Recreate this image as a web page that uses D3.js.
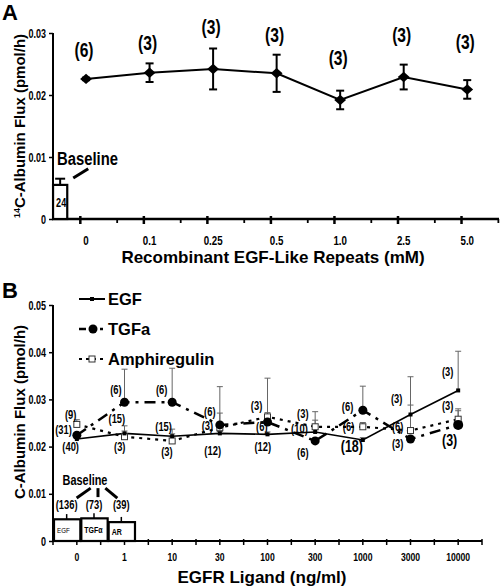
<!DOCTYPE html>
<html><head><meta charset="utf-8">
<script src="https://cdn.jsdelivr.net/npm/d3@7"></script>
<style>body{margin:0;background:#fff}svg{display:block}</style>
</head><body>
<svg id="c" width="502" height="586"></svg>
<script>
// ---------- Panel A data ----------
const catsA = ["0","0.1","0.25","0.5","1.0","2.5","5.0"];
const fluxA = [0.0226,0.0236,0.0242,0.0235,0.0192,0.0229,0.0209];
const errA  = [0.0002,0.0015,0.0033,0.0030,0.0015,0.0020,0.0015];
const nA    = ["(6)","(3)","(3)","(3)","(3)","(3)","(3)"];
const nAatY = [0.0273,0.0284,0.0310,0.0297,0.0260,0.0297,0.0285];
const baseA = 0.0055, baseAErr = 0.0010, baseAN = "24";
const yTicksA = [0,0.01,0.02,0.03];

// ---------- Panel B data ----------
const catsB = ["0","1","10","30","100","300","1000","3000","10000"];
const egf     = [0.0216,0.0228,0.0222,0.0228,0.0226,0.0231,0.0214,0.0268,0.0319];
const egfErr  = [0.0004,0.0005,0.0005,0.0004,0.0005,0.0025,0.0005,0.0080,0.0083];
const tgfa    = [0.0224,0.0294,0.0294,0.0246,0.0252,0.0212,0.0277,0.0216,0.0246];
const tgfaErr = [0.0004,0.0070,0.0072,0.0081,0.0093,0.0006,0.0051,0.0006,0.0030];
const amph    = [0.0247,0.0221,0.0212,0.0240,0.0263,0.0242,0.0242,0.0234,0.0258];
const amphErr = [0.0010,0.0023,0.0025,0.0031,0.0009,0.0032,0.0009,0.0054,0.0022];
const baseNames = ["EGF","TGFα","AR"];
const baseVals  = [0.0046,0.0048,0.0040];
const baseErrs  = [0.0011,0.0011,0.0011];
const baseNs    = ["(136)","(73)","(39)"];
const yTicksB = [0,0.01,0.02,0.03,0.04,0.05];
// count labels: [text, category position, value, big]
const nLabelsB = [
 ["(9)",-0.13,0.0266,0],["(31)",-0.28,0.0236,0],["(40)",-0.13,0.0199,0],
 ["(6)",0.82,0.0320,0],["(15)",0.84,0.0258,0],["(3)",0.90,0.0199,0],
 ["(6)",1.78,0.0320,0],["(15)",1.82,0.0242,0],["(3)",1.89,0.0188,0],
 ["(6)",2.79,0.0273,0],["(3)",2.74,0.0244,0],["(12)",2.85,0.0190,0],
 ["(3)",3.77,0.0286,0],["(6)",3.88,0.0242,0],["(12)",3.90,0.0199,0],
 ["(3)",4.74,0.0269,0],["(10)",4.67,0.0238,0],["(6)",4.74,0.0186,0],
 ["(6)",5.68,0.0284,0],["(6)",5.70,0.0242,0],["(18)",5.77,0.0199,1],
 ["(3)",6.71,0.0301,0],["(6)",6.73,0.0242,0],["(3)",6.73,0.0205,0],
 ["(3)",7.78,0.0358,0],["(3)",7.78,0.0286,0],["(3)",7.82,0.0212,1]
];

const SANS = "'Liberation Sans',Arial,sans-serif";
const svg = d3.select("#c");

// narrow bold text helper (Arial-Narrow look by horizontal compression)
function ntext(g, x, y, str, size, anchor, weight, sx){
  return g.append("text").attr("transform",`translate(${x},${y}) scale(${sx||0.78},1)`)
    .attr("text-anchor",anchor||"start").attr("font-family",SANS)
    .attr("font-weight",weight||"bold").attr("font-size",size).text(str);
}

// ================= PANEL A =================
const yA = d3.scaleLinear().domain([0,0.03]).range([219,33]);
const xA = d3.scaleLinear().domain([-0.52,6.5]).range([53,499]);
const gA = svg.append("g");

svg.append("text").attr("x",2).attr("y",20).attr("font-family",SANS).attr("font-weight","bold")
  .attr("font-size",22).text("A");

// y axis
const axA = d3.axisLeft(yA).tickValues(yTicksA).tickSize(4).tickFormat("");
const gyA = gA.append("g").attr("transform","translate(53,0)").call(axA);
gyA.select(".domain").remove();
gyA.selectAll("line").attr("stroke","#000").attr("stroke-width",1.5);
yTicksA.forEach(t=>ntext(gA,46,yA(t)+4.5,t===0?"0":d3.format(".2f")(t),12.5,"end",null,0.72));
gA.append("line").attr("x1",53).attr("x2",53).attr("y1",yA(0.03)).attr("y2",yA(0)+1)
  .attr("stroke","#000").attr("stroke-width",2);

// x axis
gA.append("line").attr("x1",52).attr("x2",xA(6.5)).attr("y1",yA(0)).attr("y2",yA(0))
  .attr("stroke","#000").attr("stroke-width",2.5);
catsA.forEach((c,i)=>{
  gA.append("line").attr("x1",xA(i-0.09)).attr("x2",xA(i-0.09)).attr("y1",yA(0)-3).attr("y2",yA(0)+5)
    .attr("stroke","#000").attr("stroke-width",2.5);
  gA.append("line").attr("x1",xA(i+0.49)).attr("x2",xA(i+0.49)).attr("y1",yA(0)).attr("y2",yA(0)+4)
    .attr("stroke","#000").attr("stroke-width",1.8);
  ntext(gA,xA(i),yA(0)+26,c,12.5,"middle");
});

// baseline bar
const bx0 = xA(-0.535), bx1 = xA(-0.28), bcA = (bx0+bx1)/2;
gA.append("line").attr("x1",bcA).attr("x2",bcA).attr("y1",yA(baseA)).attr("y2",yA(baseA+baseAErr))
  .attr("stroke","#000").attr("stroke-width",2);
gA.append("line").attr("x1",bcA-5).attr("x2",bcA+5).attr("y1",yA(baseA+baseAErr)).attr("y2",yA(baseA+baseAErr))
  .attr("stroke","#000").attr("stroke-width",2);
gA.append("rect").attr("x",bx0+1).attr("y",yA(baseA)).attr("width",bx1-bx0-2).attr("height",yA(0)-yA(baseA))
  .attr("fill","#fff").attr("stroke","#000").attr("stroke-width",2.2);
ntext(gA,bcA+1,(yA(baseA)+yA(0))/2+5,baseAN,13,"middle",null,0.7);
ntext(gA,bx0+5,yA(0.0087),"Baseline",19);
gA.append("line").attr("x1",bx1+5).attr("y1",yA(0.0066)).attr("x2",bx1+20).attr("y2",yA(0.0081))
  .attr("stroke","#000").attr("stroke-width",3);

// line + markers + errors
const lineA = d3.line().x((d,i)=>xA(i)).y(d=>yA(d));
gA.append("path").datum(fluxA).attr("d",lineA).attr("fill","none").attr("stroke","#000").attr("stroke-width",2);
fluxA.forEach((v,i)=>{
  const x = xA(i);
  gA.append("line").attr("x1",x).attr("x2",x).attr("y1",yA(v-errA[i])).attr("y2",yA(v+errA[i]))
    .attr("stroke","#000").attr("stroke-width",2);
  [v-errA[i],v+errA[i]].forEach(e=>gA.append("line").attr("x1",x-4).attr("x2",x+4).attr("y1",yA(e)).attr("y2",yA(e))
    .attr("stroke","#000").attr("stroke-width",2));
  gA.append("path").attr("d",d3.symbol(d3.symbolSquare,70)())
    .attr("transform",`translate(${x},${yA(v)}) scale(1,0.88) rotate(45)`).attr("fill","#000");
  ntext(gA,x-2,yA(nAatY[i])+7,nA[i],20,"middle");
});

// titles
gA.append("text").attr("transform",`translate(25,${(yA(0)+yA(0.03))/2}) rotate(-90)`).attr("text-anchor","middle")
  .attr("font-family",SANS).attr("font-weight","bold").attr("font-size",15)
  .call(t=>{t.append("tspan").attr("font-size",9).attr("dy",-5).text("14");
            t.append("tspan").attr("dy",5).text("C-Albumin Flux (pmol/h)");});
gA.append("text").attr("x",273).attr("y",263).attr("text-anchor","middle").attr("font-family",SANS)
  .attr("font-weight","bold").attr("font-size",17).text("Recombinant EGF-Like Repeats (mM)");

// ================= PANEL B =================
const yB = d3.scaleLinear().domain([0,0.05]).range([541,305]);
const xB = d3.scaleLinear().domain([-0.5,8.5]).range([53,482]);
const gB = svg.append("g");

svg.append("text").attr("x",2).attr("y",298).attr("font-family",SANS).attr("font-weight","bold")
  .attr("font-size",22).text("B");

const axB = d3.axisLeft(yB).tickValues(yTicksB).tickSize(4).tickFormat("");
const gyB = gB.append("g").attr("transform","translate(53,0)").call(axB);
gyB.select(".domain").remove();
gyB.selectAll("line").attr("stroke","#000").attr("stroke-width",1.5);
yTicksB.forEach(t=>ntext(gB,46,yB(t)+4.5,t===0?"0":d3.format(".2f")(t),12,"end",null,0.75));
gB.append("line").attr("x1",53).attr("x2",53).attr("y1",yB(0.05)).attr("y2",yB(0)+1)
  .attr("stroke","#000").attr("stroke-width",2);

gB.append("line").attr("x1",52).attr("x2",xB(8.5)).attr("y1",yB(0)).attr("y2",yB(0))
  .attr("stroke","#000").attr("stroke-width",2);
d3.range(-0.5,8.51,0.5).forEach(t=>{
  gB.append("line").attr("x1",xB(t)).attr("x2",xB(t)).attr("y1",yB(0)-2).attr("y2",yB(0)+4)
    .attr("stroke","#000").attr("stroke-width",1.5);
});
catsB.forEach((c,i)=>ntext(gB,xB(i),yB(0)+20,c,11.5,"middle",null,0.75));

// baseline boxes
const bandB = d3.scaleBand().domain(baseNames).range([xB(-0.5),xB(1.22)]);
baseNames.forEach((nm,i)=>{
  const cx = bandB(nm)+bandB.bandwidth()/2;
  gB.append("line").attr("x1",cx).attr("x2",cx).attr("y1",yB(baseVals[i])).attr("y2",yB(baseVals[i]+baseErrs[i]))
    .attr("stroke","#000").attr("stroke-width",1.5);
  gB.append("rect").attr("x",bandB(nm)+1).attr("y",yB(baseVals[i])).attr("width",bandB.bandwidth()-1)
    .attr("height",yB(0)-yB(baseVals[i])).attr("fill","#fff").attr("stroke","#000").attr("stroke-width",2.2);
  ntext(gB,bandB(nm)+4,yB(baseVals[i]/2)+3,nm,nm==="EGF"?8:9,"start",nm==="EGF"?"normal":"bold");
  ntext(gB,cx,yB(0.0076)+4,baseNs[i],12,"middle");
});
const bcx = i => bandB(baseNames[i])+bandB.bandwidth()/2;
ntext(gB,bcx(1)-9,yB(0.0119),"Baseline",14,"middle");
[[bcx(0)+10,0.0091,bcx(0)+24,0.0112],[bcx(1)+4,0.0093,bcx(1)+4,0.0112],[bcx(2)-16,0.0112,bcx(2)-4,0.0091]]
  .forEach(s=>gB.append("line").attr("x1",s[0]).attr("y1",yB(s[1])).attr("x2",s[2]).attr("y2",yB(s[3]))
    .attr("stroke","#000").attr("stroke-width",3));

// error bars (gray, upper)
function errs(vals, es){
  vals.forEach((v,i)=>{
    const x = xB(i);
    gB.append("line").attr("x1",x).attr("x2",x).attr("y1",yB(v)).attr("y2",yB(v+es[i])).attr("stroke","#666").attr("stroke-width",1);
    gB.append("line").attr("x1",x-3).attr("x2",x+3).attr("y1",yB(v+es[i])).attr("y2",yB(v+es[i])).attr("stroke","#666").attr("stroke-width",1);
  });
}
errs(egf,egfErr); errs(tgfa,tgfaErr); errs(amph,amphErr);

const lineB = d3.line().x((d,i)=>xB(i)).y(d=>yB(d));
gB.append("path").datum(amph).attr("d",lineB).attr("fill","none").attr("stroke","#000").attr("stroke-width",2.2).attr("stroke-dasharray","3,5");
gB.append("path").datum(tgfa).attr("d",lineB).attr("fill","none").attr("stroke","#000").attr("stroke-width",2.5).attr("stroke-dasharray","11,6,3,6");
gB.append("path").datum(egf).attr("d",lineB).attr("fill","none").attr("stroke","#000").attr("stroke-width",1.6);

function sqOpen(x,y){ gB.append("rect").attr("x",x-3).attr("y",y-3).attr("width",6).attr("height",6).attr("fill","#fff").attr("stroke","#333").attr("stroke-width",1); }
function dot(x,y,r){ gB.append("circle").attr("cx",x).attr("cy",y).attr("r",r).attr("fill","#000"); }
function sqFill(x,y){ gB.append("rect").attr("x",x-2).attr("y",y-2).attr("width",4).attr("height",4).attr("fill","#000"); }
amph.forEach((v,i)=>sqOpen(xB(i),yB(v)));
tgfa.forEach((v,i)=>dot(xB(i),yB(v),i===8?5:4.5));
egf.forEach((v,i)=>sqFill(xB(i),yB(v)));

nLabelsB.forEach(l=>ntext(gB,xB(l[1]),yB(l[2])+(l[3]?5:4),l[0],l[3]?16:12,"middle"));

// legend
const legend = [["EGF","solid"],["TGFa","dashdot"],["Amphiregulin","dot"]];
legend.forEach((l,i)=>{
  const y = yB(0.05) - 6 + i*30;
  const ln = gB.append("line").attr("x1",79).attr("x2",105).attr("y1",y).attr("y2",y).attr("stroke","#000");
  if(l[1]==="solid"){ ln.attr("stroke-width",2); sqFill(92,y); }
  if(l[1]==="dashdot"){ ln.attr("stroke-width",2.5).attr("stroke-dasharray","7,4,2,20"); dot(93,y,4.5);
     gB.append("line").attr("x1",100).attr("x2",103).attr("y1",y).attr("y2",y).attr("stroke","#000").attr("stroke-width",2.5);}
  if(l[1]==="dot"){ ln.attr("stroke-width",2).attr("stroke-dasharray","3,4"); sqOpen(92,y); }
  gB.append("text").attr("x",108).attr("y",y+6).attr("font-family",SANS).attr("font-weight","bold").attr("font-size",16.5).text(l[0]);
});

gB.append("text").attr("transform",`translate(25,412) rotate(-90)`).attr("text-anchor","middle")
  .attr("font-family",SANS).attr("font-weight","bold").attr("font-size",15).text("C-Albumin Flux (pmol/h)");
gB.append("text").attr("x",262).attr("y",583).attr("text-anchor","middle").attr("font-family",SANS)
  .attr("font-weight","bold").attr("font-size",17).text("EGFR Ligand (ng/ml)");
</script>
</body></html>
